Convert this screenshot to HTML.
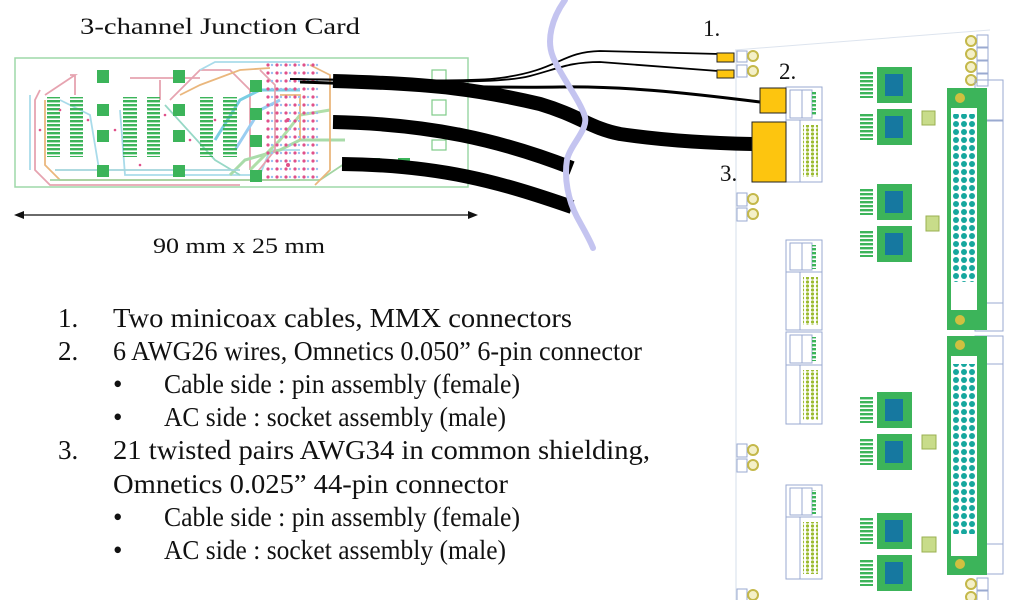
<!DOCTYPE html>
<html><head><meta charset="utf-8"><style>
html,body{margin:0;padding:0;background:#fff;width:1024px;height:600px;overflow:hidden}
svg{display:block}
text{font-family:"Liberation Serif",serif;fill:#111}
</style></head><body>
<svg width="1024" height="600" viewBox="0 0 1024 600" xmlns="http://www.w3.org/2000/svg">
<defs>
<pattern id="pk" x="265" y="62" width="9" height="8" patternUnits="userSpaceOnUse">
<circle cx="3" cy="3" r="1.6" fill="#e0508a"/><circle cx="7" cy="3" r="1.2" fill="#9ac0f0"/></pattern>
<pattern id="stripe" width="4" height="4" patternUnits="userSpaceOnUse"><rect width="4" height="2.4" fill="#3cb45a"/></pattern>
<pattern id="teal" width="8" height="8" patternUnits="userSpaceOnUse"><circle cx="4" cy="4" r="3" fill="#16a79e"/></pattern>
<pattern id="olive" width="5" height="4" patternUnits="userSpaceOnUse"><circle cx="2.5" cy="2" r="1.6" fill="#9bbb30"/></pattern>
<pattern id="fins" width="20" height="4" patternUnits="userSpaceOnUse"><rect width="16" height="2.4" fill="#3cb45a"/></pattern>
</defs>

<text x="80" y="34" font-size="23" textLength="280" lengthAdjust="spacingAndGlyphs">3-channel Junction Card</text>

<rect x="15" y="58" width="453" height="129" fill="#fff" stroke="#9ed8a8" stroke-width="1.5"/>
<g fill="none" stroke-width="1.8" opacity="0.9">
<path d="M40 90 L35 100 L35 170 L50 185 L240 185" stroke="#e49aa8"/>
<path d="M45 95 L75 75 L70 75 M75 75 L75 95" stroke="#e49aa8"/>
<path d="M45 100 L45 165 L60 180 L300 180" stroke="#e8b070"/>
<path d="M50 180 L320 180 L350 160 L400 160" stroke="#98d098"/>
<path d="M120 110 L125 175 L260 175 L270 150 L300 150" stroke="#a0d8e8"/>
<path d="M160 80 L160 100 M130 78 L200 78" stroke="#e49aa8"/>
<path d="M165 105 L215 160 L240 175" stroke="#8cd4c0"/>
<path d="M170 100 L200 70 L230 70 L250 90 L250 170" stroke="#e49aa8"/>
<path d="M180 95 L200 85 L240 70 L270 68" stroke="#e8b070"/>
<path d="M200 70 L215 62 L300 62" stroke="#a0d8e8"/>
<path d="M215 140 L240 100 L260 90 L300 90" stroke="#6cc8e0" stroke-width="3"/>
<path d="M230 175 L245 160 L280 150 L300 140 L345 140" stroke="#a0d8a0" stroke-width="3"/>
<path d="M250 170 L280 140 L300 115 L330 110" stroke="#a8dca0" stroke-width="3"/>
<path d="M235 150 L260 110 L280 100" stroke="#90c8f0" stroke-width="3"/>
<path d="M260 70 L275 85 L275 150 L255 175" stroke="#e49aa8"/>
<path d="M280 95 L300 95 L300 140" stroke="#e8b070"/>
<path d="M310 65 L330 75 L330 170 L315 185" stroke="#e8b070"/>
<path d="M30 95 L30 170" stroke="#a0d8e8"/>
<path d="M60 100 L90 115 L100 175" stroke="#a0d8e8"/>
<path d="M55 170 L240 170" stroke="#9ad0d8"/>
</g>
<g fill="#3cb45a">
<rect x="97" y="70" width="12" height="13"/><rect x="173" y="70" width="12" height="13"/>
<rect x="97" y="104" width="12" height="12"/><rect x="97" y="130" width="12" height="12"/><rect x="97" y="165" width="12" height="12"/>
<rect x="173" y="104" width="12" height="12"/><rect x="173" y="130" width="12" height="12"/><rect x="173" y="165" width="12" height="12"/>
<rect x="250" y="80" width="12" height="12"/><rect x="250" y="108" width="12" height="12"/><rect x="250" y="135" width="12" height="12"/><rect x="250" y="170" width="12" height="12"/>
</g>
<g fill="url(#stripe)">
<rect x="47" y="97" width="13" height="60"/><rect x="70" y="97" width="13" height="60"/>
<rect x="123" y="97" width="14" height="60"/><rect x="147" y="97" width="13" height="60"/>
<rect x="200" y="97" width="13" height="60"/><rect x="223" y="97" width="14" height="60"/>
</g>
<g fill="#e0508a">
<circle cx="60" cy="110" r="1.3"/><circle cx="88" cy="120" r="1.3"/><circle cx="115" cy="130" r="1.3"/><circle cx="165" cy="115" r="1.3"/><circle cx="190" cy="140" r="1.3"/><circle cx="215" cy="120" r="1.3"/><circle cx="40" cy="130" r="1.3"/><circle cx="140" cy="165" r="1.3"/>
<circle cx="288" cy="120" r="2"/><circle cx="288" cy="165" r="2"/>
</g>
<rect x="265" y="62" width="55" height="118" fill="url(#pk)"/>
<g fill="none" stroke="#7fcc88" stroke-width="1.2">
<rect x="432" y="70" width="14" height="15"/><rect x="432" y="100" width="14" height="15"/><rect x="432" y="140" width="14" height="10"/>
</g>
<g fill="#3cb45a"><rect x="398" y="81" width="12" height="4"/><rect x="398" y="127" width="12" height="4"/><rect x="370" y="158" width="10" height="4"/><rect x="398" y="158" width="12" height="4"/></g>

<line x1="20" y1="215" x2="472" y2="215" stroke="#111" stroke-width="1.3"/>
<path d="M14 215 L24 211 L24 219 Z" fill="#111"/><path d="M478 215 L468 211 L468 219 Z" fill="#111"/>
<text x="153" y="253" font-size="22" textLength="172" lengthAdjust="spacingAndGlyphs">90 mm x 25 mm</text>

<path d="M735 50 L990 30" stroke="#dde4ee" stroke-width="1"/>
<line x1="736" y1="50" x2="736" y2="600" stroke="#dde4ee" stroke-width="1.2"/>
<g fill="none" stroke="#9aaad0" stroke-width="1">
<rect x="737" y="51" width="10" height="11"/><rect x="737" y="65" width="10" height="12"/>
<rect x="737" y="193" width="10" height="13"/><rect x="737" y="208" width="10" height="13"/>
<rect x="737" y="444" width="10" height="13"/><rect x="737" y="459" width="10" height="13"/>
<rect x="737" y="589" width="10" height="12"/>
<rect x="977" y="35" width="11" height="12"/><rect x="977" y="48" width="11" height="12"/><rect x="977" y="61" width="11" height="12"/><rect x="977" y="74" width="11" height="12"/>
<rect x="977" y="578" width="11" height="12"/><rect x="977" y="591" width="11" height="12"/>
</g>
<g fill="#f4f0c8" stroke="#c4b84a" stroke-width="2">
<circle cx="753" cy="56" r="5"/><circle cx="753" cy="71" r="5"/>
<circle cx="753" cy="199" r="5"/><circle cx="753" cy="214" r="5"/>
<circle cx="753" cy="450" r="5"/><circle cx="753" cy="465" r="5"/>
<circle cx="753" cy="595" r="5"/>
<circle cx="971" cy="41" r="5"/><circle cx="971" cy="54" r="5"/><circle cx="971" cy="67" r="5"/><circle cx="971" cy="80" r="5"/>
<circle cx="971" cy="584" r="5"/><circle cx="971" cy="597" r="5"/>
</g>

<g fill="#fff" stroke="#9aaad0" stroke-width="1">
<rect x="786" y="87" width="36" height="95"/><line x1="786" y1="120" x2="822" y2="120"/><rect x="790" y="90" width="12" height="28"/><rect x="802" y="90" width="10" height="28"/><line x1="800" y1="120" x2="800" y2="182"/>
<rect x="786" y="240" width="36" height="90"/><line x1="786" y1="272" x2="822" y2="272"/><rect x="790" y="243" width="12" height="27"/><rect x="802" y="243" width="10" height="27"/><line x1="800" y1="272" x2="800" y2="330"/>
<rect x="786" y="332" width="36" height="92"/><line x1="786" y1="365" x2="822" y2="365"/><rect x="790" y="335" width="12" height="28"/><rect x="802" y="335" width="10" height="28"/><line x1="800" y1="365" x2="800" y2="424"/>
<rect x="786" y="485" width="36" height="94"/><line x1="786" y1="517" x2="822" y2="517"/><rect x="790" y="488" width="12" height="27"/><rect x="802" y="488" width="10" height="27"/><line x1="800" y1="517" x2="800" y2="579"/>
</g>
<g fill="url(#fins)"><rect x="812" y="92" width="8" height="24"/><rect x="812" y="245" width="8" height="24"/><rect x="812" y="337" width="8" height="24"/><rect x="812" y="490" width="8" height="24"/></g>
<g fill="url(#olive)"><rect x="803" y="125" width="15" height="52"/><rect x="803" y="277" width="15" height="48"/><rect x="803" y="370" width="15" height="50"/><rect x="803" y="522" width="15" height="52"/></g>

<g>
<g id="gb">
<rect x="857" y="67" width="55" height="36" fill="#fff"/>
<rect x="877" y="67" width="35" height="36" fill="#3cb45a"/>
<rect x="885" y="74" width="18" height="22" fill="#1678a0"/>
<rect x="857" y="72" width="16" height="26" fill="url(#fins)"/>
</g>
<use href="#gb" y="42"/><use href="#gb" y="117"/><use href="#gb" y="159"/>
<use href="#gb" y="325"/><use href="#gb" y="367"/><use href="#gb" y="446"/><use href="#gb" y="488"/>
</g>
<g fill="#c8dc8a" stroke="#9ab050"><rect x="922" y="111" width="13" height="14"/><rect x="926" y="216" width="13" height="15"/><rect x="922" y="435" width="14" height="14"/><rect x="922" y="537" width="14" height="15"/></g>

<g fill="none" stroke="#9aaad0"><rect x="975" y="80" width="28" height="40"/><rect x="975" y="121" width="28" height="182"/><rect x="975" y="303" width="28" height="28"/><rect x="975" y="336" width="28" height="28"/><rect x="975" y="364" width="28" height="180"/><rect x="975" y="544" width="28" height="30"/></g>
<rect x="947" y="88" width="40" height="242" fill="#3cb45a"/>
<rect x="951" y="108" width="26" height="202" fill="#fff"/>
<rect x="953" y="114" width="24" height="168" fill="url(#teal)"/>
<circle cx="960" cy="98" r="5" fill="#d0c040"/><circle cx="960" cy="320" r="5" fill="#d0c040"/>
<rect x="947" y="336" width="40" height="239" fill="#3cb45a"/>
<rect x="951" y="356" width="26" height="200" fill="#fff"/>
<rect x="953" y="364" width="24" height="170" fill="url(#teal)"/>
<circle cx="960" cy="345" r="5" fill="#d0c040"/><circle cx="960" cy="564" r="5" fill="#d0c040"/>

<g fill="none" stroke="#000" stroke-linecap="butt">
<path d="M290 79 C400 80 470 82 500 78 C560 70 560 52 600 51 L720 54" stroke-width="1.8"/>
<path d="M290 79 C420 82 500 84 530 76 C560 68 570 62 600 62 L718 71" stroke-width="1.8"/>
<path d="M300 82 C420 86 500 88 560 87 C620 86 680 92 760 102" stroke-width="3"/>
<path d="M333 81 C440 84 480 90 540 104 C580 116 590 128 620 134 C660 140 700 143 752 144" stroke-width="14"/>
<path d="M333 122 C430 124 500 140 572 168" stroke-width="14"/>
<path d="M342 164 C440 165 500 182 572 207" stroke-width="14"/>
</g>
<g fill="#fdc50f" stroke="#222" stroke-width="1">
<rect x="717" y="53" width="17" height="9"/><rect x="717" y="70" width="17" height="8"/>
<rect x="760" y="88" width="26" height="25"/><rect x="752" y="122" width="34" height="60"/>
</g>

<path d="M565 0 C552 18 546 40 553 57 C560 75 580 100 585 117 C588 130 570 145 567 160 C564 178 568 200 577 217 C584 230 590 240 593 248" fill="none" stroke="#c4c4f0" stroke-width="6" stroke-linecap="round"/>

<text x="703" y="36" font-size="23">1.</text>
<text x="779" y="79" font-size="23">2.</text>
<text x="720" y="181" font-size="23">3.</text>

<g font-size="27">
<text x="58" y="327">1.</text><text x="113" y="327" textLength="459" lengthAdjust="spacingAndGlyphs">Two minicoax cables, MMX connectors</text>
<text x="58" y="360">2.</text><text x="113" y="360" textLength="529" lengthAdjust="spacingAndGlyphs">6 AWG26 wires, Omnetics 0.050” 6-pin connector</text>
<text x="113" y="393">•</text><text x="164" y="393" textLength="356" lengthAdjust="spacingAndGlyphs">Cable side : pin assembly (female)</text>
<text x="113" y="426">•</text><text x="164" y="426" textLength="342" lengthAdjust="spacingAndGlyphs">AC side : socket assembly (male)</text>
<text x="58" y="459">3.</text><text x="113" y="459" textLength="537" lengthAdjust="spacingAndGlyphs">21 twisted pairs AWG34 in common shielding,</text>
<text x="113" y="493" textLength="395" lengthAdjust="spacingAndGlyphs">Omnetics 0.025” 44-pin connector</text>
<text x="113" y="526">•</text><text x="164" y="526" textLength="356" lengthAdjust="spacingAndGlyphs">Cable side : pin assembly (female)</text>
<text x="113" y="559">•</text><text x="164" y="559" textLength="342" lengthAdjust="spacingAndGlyphs">AC side : socket assembly (male)</text>
</g>
</svg>
</body></html>
